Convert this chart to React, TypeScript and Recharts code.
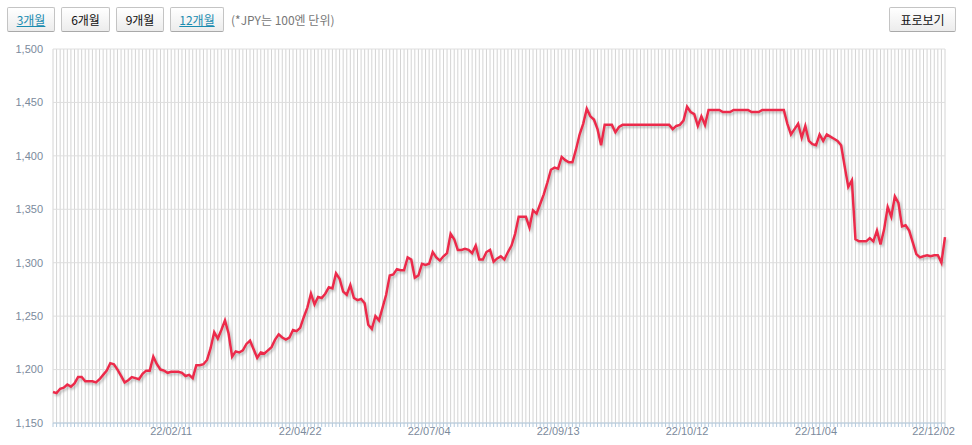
import { CartesianGrid, Line, LineChart, XAxis, YAxis } from 'recharts';

// JPY(100엔) 환율, 12개월
const rates = [
  1179, 1178, 1182, 1183, 1186, 1184, 1187, 1193, 1193, 1189,
  1189, 1189, 1188, 1191, 1195, 1199, 1206, 1205, 1200, 1194,
  1188, 1190, 1193, 1192, 1191, 1196, 1199, 1199, 1212, 1205,
  1200, 1199, 1197, 1198, 1198, 1198, 1197, 1194, 1195, 1192,
  1204, 1204, 1205, 1209, 1220, 1235, 1229, 1237, 1246, 1234,
  1212, 1217, 1216, 1218, 1224, 1227, 1219, 1211, 1216, 1215,
  1218, 1221, 1228, 1233, 1230, 1228, 1230, 1237, 1236, 1239,
  1249, 1258, 1271, 1261, 1268, 1267, 1271, 1277, 1276, 1290,
  1285, 1273, 1270, 1279, 1267, 1265, 1266, 1262, 1242, 1238,
  1250, 1246, 1258, 1270, 1288, 1289, 1294, 1293, 1293, 1305,
  1303, 1286, 1288, 1299, 1298, 1299, 1310, 1305, 1302, 1306,
  1309, 1327, 1322, 1312, 1312, 1313, 1312, 1309, 1316, 1303,
  1303, 1310, 1312, 1301, 1304, 1306, 1303, 1310, 1316, 1327,
  1343, 1343, 1343, 1333, 1349, 1346, 1355, 1364, 1375, 1387,
  1389, 1388, 1399, 1396, 1394, 1394, 1406, 1420, 1430, 1444,
  1437, 1434, 1425, 1410, 1429, 1429, 1429, 1422, 1427, 1429,
  1429, 1429, 1429, 1429, 1429, 1429, 1429, 1429, 1429, 1429,
  1429, 1429, 1429, 1425, 1428, 1429, 1433, 1446, 1441, 1439,
  1428, 1437, 1429, 1443, 1443, 1443, 1443, 1441, 1441, 1441,
  1443, 1443, 1443, 1443, 1443, 1441, 1441, 1441, 1443, 1443,
  1443, 1443, 1443, 1443, 1443, 1430, 1420, 1425, 1430, 1417,
  1428, 1414, 1411, 1410, 1420, 1414, 1420, 1418, 1416, 1414,
  1410, 1390, 1371, 1377, 1322, 1320, 1320, 1320, 1323, 1320,
  1330, 1317, 1331, 1352, 1343, 1362, 1356, 1334, 1335, 1330,
  1319, 1308, 1305, 1306, 1307, 1306, 1307, 1307, 1300, 1324,
];

const labelIndexes = [33, 69, 105, 141, 177, 213, 249];
const labelTexts = ['22/02/11', '22/04/22', '22/07/04', '22/09/13', '22/10/12', '22/11/04', '22/12/02'];
const yTicks = [1150, 1200, 1250, 1300, 1350, 1400, 1450, 1500];

const periods = ['3개월', '6개월', '9개월', '12개월'];
const linkedPeriods = ['3개월', '12개월'];
const periodWidths = [48, 49, 48, 54];

const chartData = rates.map((rate, idx) => ({ idx, rate }));

const axisText = '#7b8a9c';

function DateTick(props: any) {
  const { x, y, payload } = props;
  const pos = labelIndexes.indexOf(payload.index);
  if (pos < 0) return null;
  // the last label is pulled inside the right edge
  const last = pos === labelIndexes.length - 1;
  return (
    <text
      x={x}
      y={y}
      dx={last ? 10 : 0}
      dy="0.71em"
      textAnchor={last ? 'end' : 'middle'}
      fill={axisText}
      fontSize={11}
      fontFamily="'Liberation Sans', Arial, sans-serif"
    >
      {labelTexts[pos]}
    </text>
  );
}

const buttonStyle = {
  position: 'absolute' as const,
  top: 7,
  height: 25,
  boxSizing: 'border-box' as const,
  border: '1px solid #c4c4c4',
  borderBottomColor: '#a9a9a9',
  borderRadius: 2,
  background: 'linear-gradient(#ffffff, #ececec)',
  fontSize: 12,
  fontFamily: "'Noto Sans CJK KR', sans-serif",
  display: 'flex',
  alignItems: 'center',
  justifyContent: 'center',
};

export default function App() {
  let left = 7;
  const buttons = periods.map((p, i) => {
    const linked = linkedPeriods.includes(p);
    const el = (
      <div
        key={p}
        style={{
          ...buttonStyle,
          left,
          width: periodWidths[i],
          color: linked ? '#1a8cb0' : '#111',
          textDecoration: linked ? 'underline' : 'none',
        }}
      >
        {p}
      </div>
    );
    left += periodWidths[i] + 6;
    return el;
  });

  return (
    <div style={{ position: 'relative', width: 972, height: 445, overflow: 'hidden' }}>
      <style>{'body{margin:0}'}</style>
      {buttons}
      <div
        style={{
          position: 'absolute',
          left: 231,
          top: 7,
          height: 25,
          display: 'flex',
          alignItems: 'center',
          fontSize: 12,
          color: '#777',
          fontFamily: "'Noto Sans CJK KR', sans-serif",
        }}
      >
        (*JPY는 100엔 단위)
      </div>
      <div style={{ ...buttonStyle, left: 889, width: 67, color: '#111' }}>표로보기</div>
      <div style={{ position: 'absolute', left: 0, top: 0 }}>
        <LineChart
          width={956}
          height={445}
          data={chartData}
          margin={{ top: 49, right: 11, left: 0, bottom: 0 }}
        >
          <defs>
            <filter id="lineShadow" x="-5%" y="-5%" width="110%" height="120%">
              <feDropShadow dx="1.5" dy="2" stdDeviation="1" floodColor="#777" floodOpacity="0.45" />
            </filter>
          </defs>
          <CartesianGrid horizontal={false} stroke="#d4d4d4" />
          <CartesianGrid vertical={false} stroke="#dedede" />
          <XAxis
            dataKey="idx"
            interval={0}
            height={22}
            tickSize={4}
            tickMargin={0}
            stroke="#b4cadd"
            tickLine={{ stroke: '#b4cadd' }}
            axisLine={{ stroke: '#b4cadd' }}
            tick={<DateTick />}
          />
          <YAxis
            width={53}
            domain={[1150, 1500]}
            ticks={yTicks}
            tickLine={false}
            axisLine={false}
            tickSize={8}
            tickMargin={2}
            tickFormatter={(v: number) => v.toLocaleString('en-US')}
            tick={{ fill: axisText, fontSize: 11, fontFamily: "'Liberation Sans', Arial, sans-serif" }}
          />
          <Line
            dataKey="rate"
            type="linear"
            stroke="#ec2c4c"
            strokeWidth={2.5}
            dot={false}
            activeDot={false}
            filter="url(#lineShadow)"
            isAnimationActive={false}
          />
        </LineChart>
      </div>
    </div>
  );
}
